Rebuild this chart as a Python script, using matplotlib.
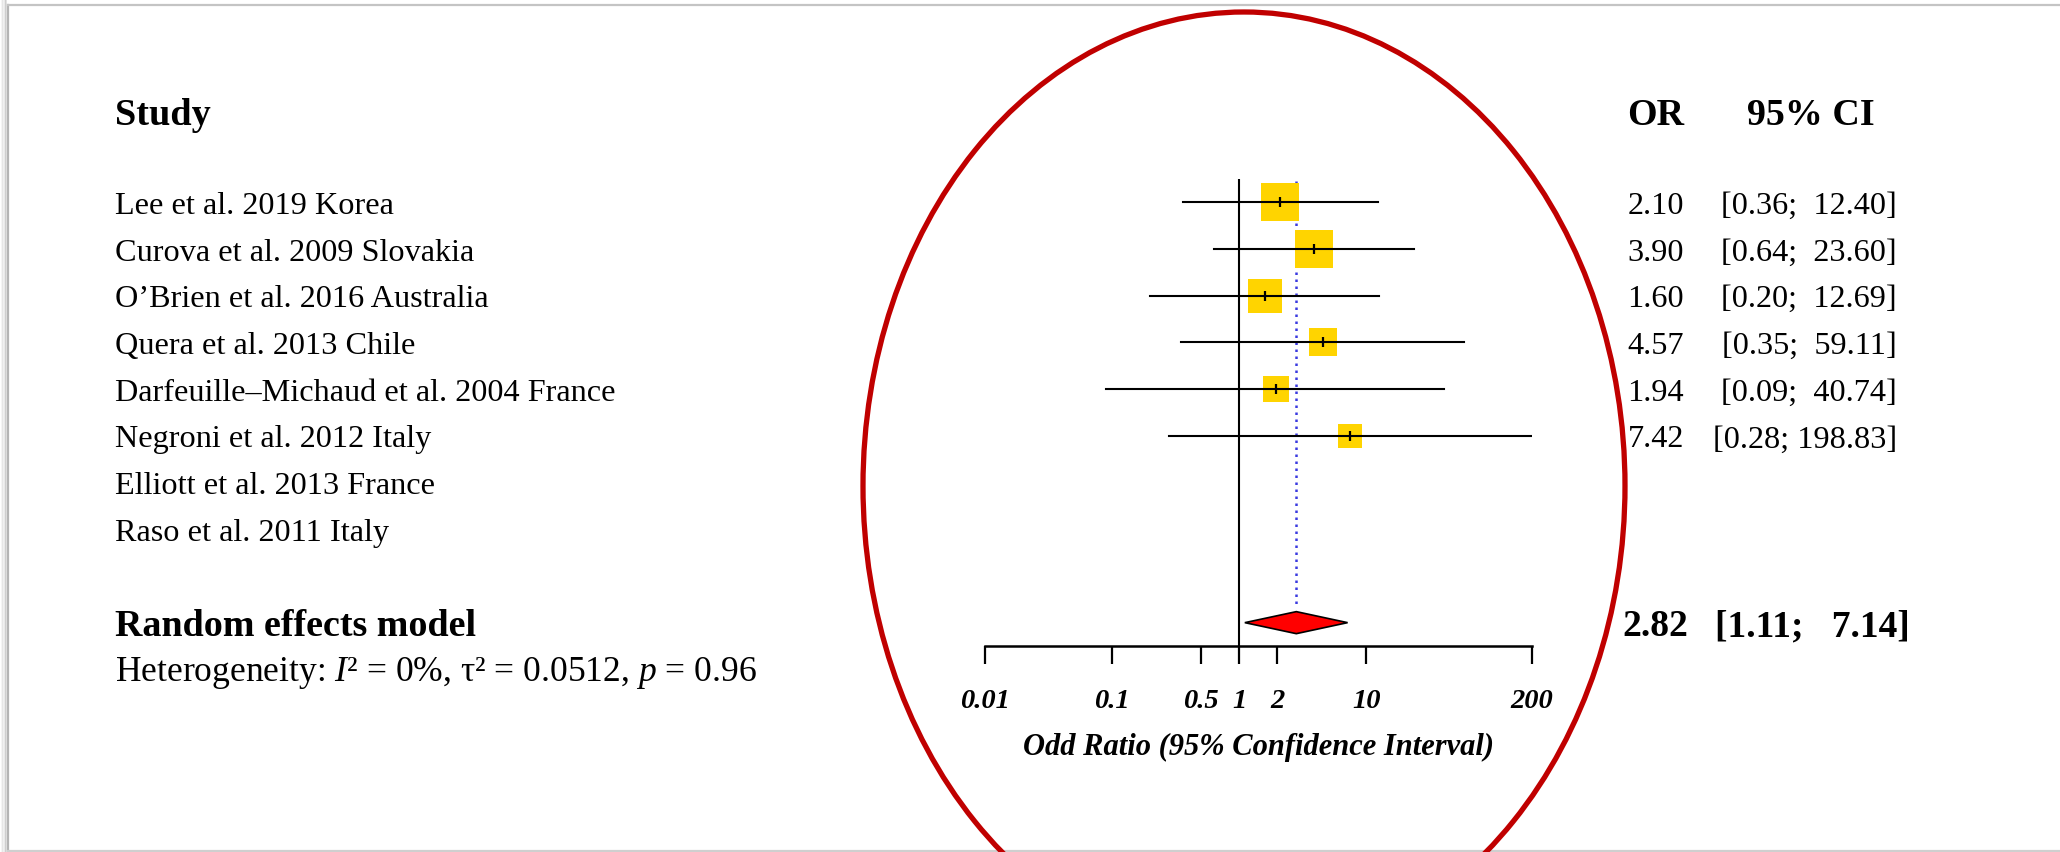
import matplotlib
matplotlib.use("Agg")
import matplotlib.pyplot as plt
import matplotlib.transforms as mtransforms
from matplotlib.patches import Ellipse, Polygon
from matplotlib.lines import Line2D
import numpy as np

# Studies, odds ratios and 95% CIs (random effects meta-analysis)
studies = ["Lee et al. 2019 Korea",
           "Curova et al. 2009 Slovakia",
           "O\u2019Brien et al. 2016 Australia",
           "Quera et al. 2013 Chile",
           "Darfeuille\u2013Michaud et al. 2004 France",
           "Negroni et al. 2012 Italy",
           "Elliott et al. 2013 France",
           "Raso et al. 2011 Italy"]
odds_ratio = [2.10, 3.90, 1.60, 4.57, 1.94, 7.42, np.nan, np.nan]
ci_lower = [0.36, 0.64, 0.20, 0.35, 0.09, 0.28, np.nan, np.nan]
ci_upper = [12.40, 23.60, 12.69, 59.11, 40.74, 198.83, np.nan, np.nan]
weights = [24.8, 24.2, 19.4, 12.2, 10.5, 8.9, np.nan, np.nan]  # % weight

pooled_or = 2.82
pooled_lower = 1.11
pooled_upper = 7.14
i2 = 0
tau2 = 0.0512
p_het = 0.96

tick_values = [0.01, 0.1, 0.5, 1, 2, 10, 200]
tick_labels = ["0.01", "0.1", "0.5", "1", "2", "10", "200"]

plt.rcParams["font.family"] = ["Liberation Serif", "DejaVu Serif"]
plt.rcParams["mathtext.fontset"] = "custom"
plt.rcParams["mathtext.rm"] = "Liberation Serif"
plt.rcParams["mathtext.it"] = "Liberation Serif:italic"

W, H = 2060, 852
fig = plt.figure(figsize=(W / 100, H / 100), dpi=100)
fig.patch.set_facecolor("white")

n = len(studies)
summary_row = n + 1

# forest panel: rows from -0.5 (top) to summary_row + 0.5 (axis line)
ax_left, ax_right = 984.8, 1531.6
ax_top, ax_bottom = 179, 646
ax = fig.add_axes([ax_left / W, 1 - ax_bottom / H,
                   (ax_right - ax_left) / W, (ax_bottom - ax_top) / H])
ax.patch.set_alpha(0)
ax.set_xscale("log")
ax.set_xlim(tick_values[0], tick_values[-1])
ax.set_ylim(summary_row + 0.5, -0.5)

for side in ["left", "right", "top"]:
    ax.spines[side].set_visible(False)
ax.spines["bottom"].set_linewidth(1.8)
ax.set_yticks([])
ax.set_xticks(tick_values)
ax.xaxis.set_minor_locator(matplotlib.ticker.NullLocator())
ax.set_xticklabels(tick_labels, fontsize=20.5, fontweight="bold", fontstyle="italic")
ax.tick_params(axis="x", length=13, width=1.6, pad=18, color="black")

# line of no effect and pooled estimate
ax.plot([1, 1], [-0.5, summary_row + 0.5], color="black", lw=1.5, zorder=2)
ax.plot([pooled_or, pooled_or], [-0.45, summary_row - 0.35], color="#3a3ae0",
        lw=1.8, dashes=(1, 1.8), zorder=2)

rows = np.arange(n)
for i in rows:
    if np.isnan(odds_ratio[i]):
        continue
    ax.plot([ci_lower[i], ci_upper[i]], [i, i], color="black", lw=1.5, zorder=3)
    side_pt = 7.8 * np.sqrt(weights[i]) * 0.72
    ax.scatter(odds_ratio[i], i, marker="s", s=side_pt ** 2, color="#ffd400",
               linewidths=0, zorder=2.5)
    ax.plot(odds_ratio[i], i, marker="|", ms=7.5, mew=1.6, color="black", zorder=4)

# summary diamond
h = 0.236
diamond = Polygon([[pooled_lower, summary_row], [pooled_or, summary_row - h],
                   [pooled_upper, summary_row], [pooled_or, summary_row + h]],
                  closed=True, facecolor="#ff0000", edgecolor="black", lw=1.2, zorder=3)
ax.add_patch(diamond)

fig.text((ax_left + ax_right) / 2 / W, 1 - 747 / H,
         "Odd Ratio (95% Confidence Interval)", ha="center", va="center",
         fontsize=22, fontweight="bold", fontstyle="italic")

# text columns (nudged down a few pixels so glyphs sit on the row centres)
base = mtransforms.blended_transform_factory(fig.transFigure, ax.transData)
trans = mtransforms.offset_copy(base, fig=fig, x=0, y=-4, units="dots")
x_study = 115 / W
x_or = 1684 / W
x_ci = 1897 / W
header_row = -1.95

ax.text(x_study, header_row, "Study", transform=trans, ha="left", va="center",
        fontsize=27.5, fontweight="bold", clip_on=False)
ax.text(1627 / W, header_row, "OR", transform=trans, ha="left", va="center",
        fontsize=27.4, fontweight="bold", clip_on=False)
ax.text(1747 / W, header_row, "95% CI", transform=trans, ha="left", va="center",
        fontsize=27.4, fontweight="bold", clip_on=False)

for i in rows:
    ax.text(x_study, i, studies[i], transform=trans, ha="left", va="center",
            fontsize=23.2, clip_on=False)
    if not np.isnan(odds_ratio[i]):
        ax.text(x_or, i, f"{odds_ratio[i]:.2f}", transform=trans, ha="right",
                va="center", fontsize=23.2, clip_on=False)
        ax.text(x_ci, i, f"[{ci_lower[i]:.2f}; {ci_upper[i]:6.2f}]", transform=trans,
                ha="right", va="center", fontsize=23.2, clip_on=False)

ax.text(x_study, summary_row, "Random effects model", transform=trans,
        ha="left", va="center", fontsize=27.4, fontweight="bold", clip_on=False)
ax.text(x_study, summary_row + 1.0,
        f"Heterogeneity: $I$\u00b2 = {i2}%, \u03c4\u00b2 = {tau2}, $p$ = {p_het}",
        transform=trans, ha="left", va="center", fontsize=25.6, clip_on=False)
ax.text(1688 / W, summary_row, f"{pooled_or:.2f}", transform=trans,
        ha="right", va="center", fontsize=27, fontweight="bold", clip_on=False)
ax.text(1910 / W, summary_row, f"[{pooled_lower:.2f}; {pooled_upper:6.2f}]",
        transform=trans, ha="right", va="center", fontsize=27, fontweight="bold",
        clip_on=False)

# page frame with a soft shadow on the left
for k, a in enumerate([0.10, 0.16, 0.22, 0.30]):
    x = (1.5 + k * 1.5) / W
    fig.add_artist(Line2D([x, x], [0, 1], transform=fig.transFigure,
                          color="black", alpha=a * 0.5, lw=1.1))
fig.add_artist(Line2D([8 / W, 8 / W], [1 - 851 / H, 1 - 5 / H],
                      transform=fig.transFigure, color="#b4b4b4", lw=1.6))
fig.add_artist(Line2D([8 / W, 1], [1 - 5 / H, 1 - 5 / H],
                      transform=fig.transFigure, color="#c4c4c4", lw=1.6))
fig.add_artist(Line2D([8 / W, 1], [1 - 851 / H, 1 - 851 / H],
                      transform=fig.transFigure, color="#cfcfcf", lw=1.6))

# red highlight ellipse around the forest panel
fig.add_artist(Ellipse((1244 / W, 1 - 486 / H), 2 * 381 / W, 2 * 474 / H,
                       transform=fig.transFigure, fill=False,
                       edgecolor="#c00000", lw=3.8, zorder=5))

fig.savefig("out.png", dpi=100)
